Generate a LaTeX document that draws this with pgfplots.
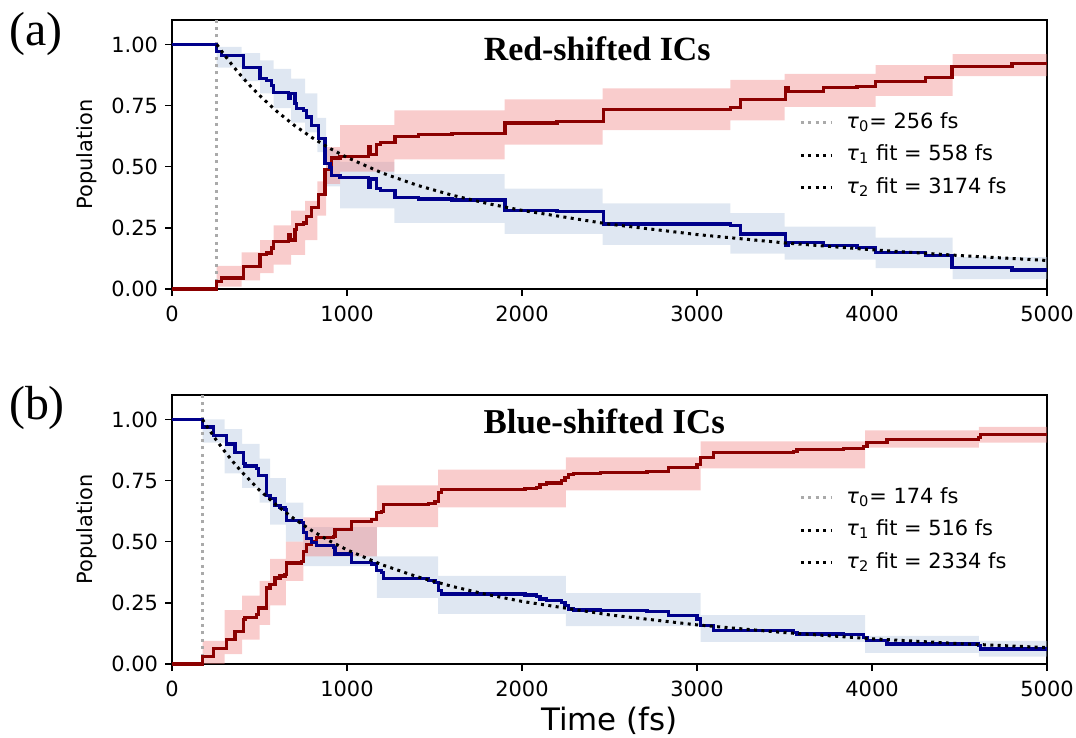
\documentclass[border=0pt]{standalone}
\usepackage{fontspec}
\setmainfont{DejaVu Sans}
\newfontfamily\serifrm{Liberation Serif}
\usepackage{pgfplots}
\pgfplotsset{compat=1.18}
\usepgfplotslibrary{fillbetween}

\definecolor{popblue}{HTML}{00008B}
\definecolor{popred}{HTML}{8B0000}
\definecolor{bandblue}{HTML}{B0C4DE}
\definecolor{bandred}{HTML}{F08080}
\definecolor{tzero}{HTML}{AAAAAA}

\pgfplotsset{
  popaxis/.style={
    scale only axis, width=437.5bp, height=134.5bp,
    anchor=south west,
    xmin=0, xmax=5000, ymin=0, ymax=1.1,
    xtick={0,1000,2000,3000,4000,5000},
    ytick={0,0.25,0.5,0.75,1},
    xtick pos=bottom, ytick pos=left, tick align=outside,
    major tick length=3.5bp,
    every tick/.style={black, line width=0.65bp},
    axis line style={line width=0.65bp},
    tick label style={font=\fontsize{10.5}{12}\selectfont},
    /pgf/number format/assume math mode=true,
    xticklabel style={/pgf/number format/1000 sep={}, yshift=-1.5bp},
    yticklabel style={/pgf/number format/.cd, fixed, fixed zerofill, precision=2},
    ylabel={Population},
    ylabel style={at={(axis description cs:-0.097,0.5)}, anchor=center,
      font=\fontsize{10.5}{12}\selectfont},
    clip=false,
    legend cell align=left,
    legend image code/.code={\draw[##1] (0bp,0bp) -- (15bp,0bp); \path (20bp,0bp);},
    legend style={draw=none, fill=none, inner sep=0pt,
      at={(rel axis cs:0.7166,0.674)}, anchor=north west,
      font=\fontsize{10.5}{12}\selectfont,
      nodes={text height=8bp, text depth=2.5bp, inner sep=2bp},
      row sep=1.75bp},
  },
  fitline/.style={black, line width=1.5bp, dash pattern=on 1.5bp off 2.2bp},
  tzline/.style={tzero, line width=1.5bp, dash pattern=on 1.5bp off 2.2bp},
  popline/.style={const plot, line width=1.6bp},
}

\begin{document}
\begin{tikzpicture}

% ---------------- (a) red-shifted ----------------
\begin{axis}[popaxis, at={(86bp,224.5bp)}]
\addlegendimage{tzline}
\addlegendentry{\textit{τ}\textsubscript{0}= 256 fs}
\addlegendimage{fitline}
\addlegendentry{\textit{τ}\textsubscript{1} fit = 558 fs}
\addlegendimage{fitline}
\addlegendentry{\textit{τ}\textsubscript{2} fit = 3174 fs}

\addplot[name path=bua, const plot, draw=none, forget plot] coordinates {
(255,0.99) (398,0.965) (503,0.935) (580,0.90) (680,0.86) (760,0.80) (830,0.70)
(880,0.57) (960,0.52) (1270,0.47) (1900,0.41) (2460,0.35) (3190,0.31) (3500,0.255)
(4020,0.21) (4460,0.13) (5000,0.13)};
\addplot[name path=bla, const plot, draw=none, forget plot] coordinates {
(255,0.905) (398,0.85) (503,0.80) (580,0.74) (680,0.68) (760,0.64) (830,0.56)
(880,0.42) (960,0.33) (1270,0.27) (1900,0.225) (2460,0.18) (3190,0.145) (3500,0.12)
(4020,0.085) (4460,0.04) (5000,0.04)};
\addplot[name path=rua, const plot, draw=none, forget plot] coordinates {
(255,0.095) (398,0.15) (503,0.20) (580,0.26) (680,0.32) (760,0.36) (830,0.44)
(880,0.58) (960,0.67) (1270,0.73) (1900,0.775) (2460,0.82) (3190,0.855) (3500,0.88)
(4020,0.915) (4460,0.96) (5000,0.96)};
\addplot[name path=rla, const plot, draw=none, forget plot] coordinates {
(255,0.01) (398,0.035) (503,0.065) (580,0.10) (680,0.14) (760,0.20) (830,0.30)
(880,0.43) (960,0.48) (1270,0.53) (1900,0.59) (2460,0.65) (3190,0.69) (3500,0.745)
(4020,0.79) (4460,0.87) (5000,0.87)};
\addplot[bandblue, fill opacity=0.4, draw=none, forget plot] fill between[of=bua and bla];
\addplot[bandred, fill opacity=0.4, draw=none, forget plot] fill between[of=rua and rla];

\addplot[tzline, forget plot] coordinates {(256,0) (256,1.1)};

\addplot[popline, popred, forget plot] coordinates {
(0,0) (255,0.03) (284,0.045) (408,0.093) (503,0.14) (541,0.147) (570,0.168)
(579,0.195) (665,0.222) (675,0.20) (703,0.243) (712,0.263) (750,0.27) (770,0.297)
(798,0.332) (836,0.386) (874,0.488) (903,0.502) (912,0.536) (960,0.543)
(1122,0.584) (1132,0.55) (1170,0.59) (1190,0.598) (1274,0.625) (1408,0.632)
(1600,0.636) (1903,0.679) (2200,0.684) (2465,0.734) (3190,0.741) (3248,0.775)
(3505,0.823) (3525,0.809) (3724,0.823) (3914,0.829) (4019,0.85) (4305,0.864)
(4457,0.911) (4800,0.922) (5000,0.922)};
\addplot[popline, popblue, forget plot] coordinates {
(0,1.0) (255,0.97) (284,0.955) (408,0.907) (503,0.86) (541,0.853) (570,0.832)
(579,0.805) (665,0.778) (675,0.80) (703,0.757) (712,0.737) (750,0.73) (770,0.703)
(798,0.668) (836,0.614) (874,0.512) (903,0.498) (912,0.464) (960,0.457)
(1122,0.416) (1132,0.45) (1170,0.41) (1190,0.402) (1274,0.375) (1408,0.368)
(1600,0.364) (1903,0.321) (2200,0.316) (2465,0.266) (3190,0.259) (3248,0.225)
(3505,0.177) (3525,0.191) (3724,0.177) (3914,0.171) (4019,0.150) (4305,0.136)
(4457,0.089) (4800,0.078) (5000,0.078)};

\addplot[fitline, forget plot] coordinates {
(256,1) (300,0.9564) (350,0.9104) (400,0.8677) (450,0.8282) (500,0.7915)
(600,0.7257) (700,0.6687) (800,0.6192) (900,0.5758) (1000,0.5379) (1200,0.4747)
(1400,0.4244) (1600,0.3837) (1800,0.3499) (2000,0.3213) (2500,0.2650)
(3000,0.2226) (3500,0.1885) (4000,0.1604) (4500,0.1368) (5000,0.1167)};

\node[font=\serifrm\bfseries\fontsize{17}{20}\selectfont, anchor=base]
  at (rel axis cs:0.486,0.851) {Red-shifted ICs};
\end{axis}

% ---------------- (b) blue-shifted ----------------
\begin{axis}[popaxis, at={(86bp,37bp)},
  xlabel={Time (fs)},
  xlabel style={at={(axis description cs:0.5,0)}, anchor=base, yshift=-33.4bp,
    font=\fontsize{15.5}{18}\selectfont}]
\addlegendimage{tzline}
\addlegendentry{\textit{τ}\textsubscript{0}= 174 fs}
\addlegendimage{fitline}
\addlegendentry{\textit{τ}\textsubscript{1} fit = 516 fs}
\addlegendimage{fitline}
\addlegendentry{\textit{τ}\textsubscript{2} fit = 2334 fs}

\addplot[name path=bub, const plot, draw=none, forget plot] coordinates {
(175,1.0) (300,0.96) (400,0.90) (500,0.84) (560,0.76) (650,0.66) (750,0.56)
(1170,0.44) (1520,0.36) (2250,0.29) (3020,0.20) (3960,0.115) (4610,0.095) (5000,0.095)};
\addplot[name path=blb, const plot, draw=none, forget plot] coordinates {
(175,0.905) (300,0.78) (400,0.72) (500,0.66) (560,0.57) (650,0.50) (750,0.40)
(1170,0.27) (1520,0.205) (2250,0.155) (3020,0.09) (3960,0.045) (4610,0.03) (5000,0.03)};
\addplot[name path=rub, const plot, draw=none, forget plot] coordinates {
(175,0.095) (300,0.22) (400,0.28) (500,0.34) (560,0.43) (650,0.50) (750,0.60)
(1170,0.73) (1520,0.795) (2250,0.845) (3020,0.91) (3960,0.955) (4610,0.97) (5000,0.97)};
\addplot[name path=rlb, const plot, draw=none, forget plot] coordinates {
(175,0.0) (300,0.04) (400,0.10) (500,0.16) (560,0.24) (650,0.34) (750,0.44)
(1170,0.56) (1520,0.64) (2250,0.71) (3020,0.80) (3960,0.885) (4610,0.905) (5000,0.905)};
\addplot[bandblue, fill opacity=0.4, draw=none, forget plot] fill between[of=bub and blb];
\addplot[bandred, fill opacity=0.4, draw=none, forget plot] fill between[of=rub and rlb];

\addplot[tzline, forget plot] coordinates {(174,0) (174,1.1)};

\addplot[popline, popred, forget plot] coordinates {
(0,0) (175,0.031) (236,0.065) (312,0.10) (360,0.134) (408,0.181) (417,0.19)
(484,0.202) (493,0.229) (541,0.311) (560,0.324) (589,0.352) (617,0.36) (646,0.367)
(655,0.413) (741,0.42) (750,0.461) (770,0.488) (798,0.502) (827,0.516) (922,0.523)
(931,0.55) (1027,0.584) (1141,0.591) (1170,0.618) (1198,0.625) (1208,0.652)
(1465,0.657) (1503,0.666) (1522,0.70) (1541,0.714) (2017,0.718) (2084,0.723)
(2103,0.734) (2141,0.74) (2227,0.75) (2246,0.761) (2265,0.775) (2293,0.779)
(2448,0.782) (2714,0.786) (2838,0.802) (3000,0.816) (3019,0.843) (3095,0.864)
(3552,0.87) (3571,0.877) (3838,0.88) (3952,0.891) (3971,0.905) (4086,0.918)
(4610,0.925) (4619,0.939) (5000,0.939)};
\addplot[popline, popblue, forget plot] coordinates {
(0,1.0) (175,0.969) (236,0.935) (312,0.90) (360,0.866) (408,0.819) (417,0.81)
(484,0.798) (493,0.771) (541,0.689) (560,0.676) (589,0.648) (617,0.64) (646,0.633)
(655,0.587) (741,0.580) (750,0.539) (770,0.512) (798,0.498) (827,0.484) (922,0.477)
(931,0.45) (1027,0.416) (1141,0.409) (1170,0.382) (1198,0.375) (1208,0.348)
(1465,0.343) (1503,0.334) (1522,0.30) (1541,0.286) (2017,0.282) (2084,0.277)
(2103,0.266) (2141,0.26) (2227,0.25) (2246,0.239) (2265,0.225) (2293,0.221)
(2448,0.218) (2714,0.214) (2838,0.198) (3000,0.184) (3019,0.157) (3095,0.136)
(3552,0.13) (3571,0.123) (3838,0.12) (3952,0.109) (3971,0.095) (4086,0.082)
(4610,0.075) (4619,0.061) (5000,0.061)};

\addplot[fitline, forget plot] coordinates {
(174,1) (200,0.9710) (250,0.9187) (300,0.8703) (350,0.8257) (400,0.7844)
(500,0.7108) (600,0.6475) (700,0.5926) (800,0.5450) (900,0.5034) (1000,0.4668)
(1200,0.4058) (1400,0.3571) (1600,0.3174) (1800,0.2841) (2000,0.2560)
(2500,0.2008) (3000,0.1599) (3500,0.1283) (4000,0.1032) (4500,0.0832) (5000,0.0671)};

\node[font=\serifrm\bfseries\fontsize{17.5}{20}\selectfont, anchor=base]
  at (rel axis cs:0.494,0.858) {Blue-shifted ICs};
\end{axis}

\node[font=\serifrm\fontsize{24}{26}\selectfont] at (18bp,352bp) {(a)};
\node[font=\serifrm\fontsize{24}{26}\selectfont] at (18.5bp,165bp) {(b)};

\pgfresetboundingbox
\path[use as bounding box] (0,0) rectangle (538bp,369bp);
\end{tikzpicture}
\end{document}
